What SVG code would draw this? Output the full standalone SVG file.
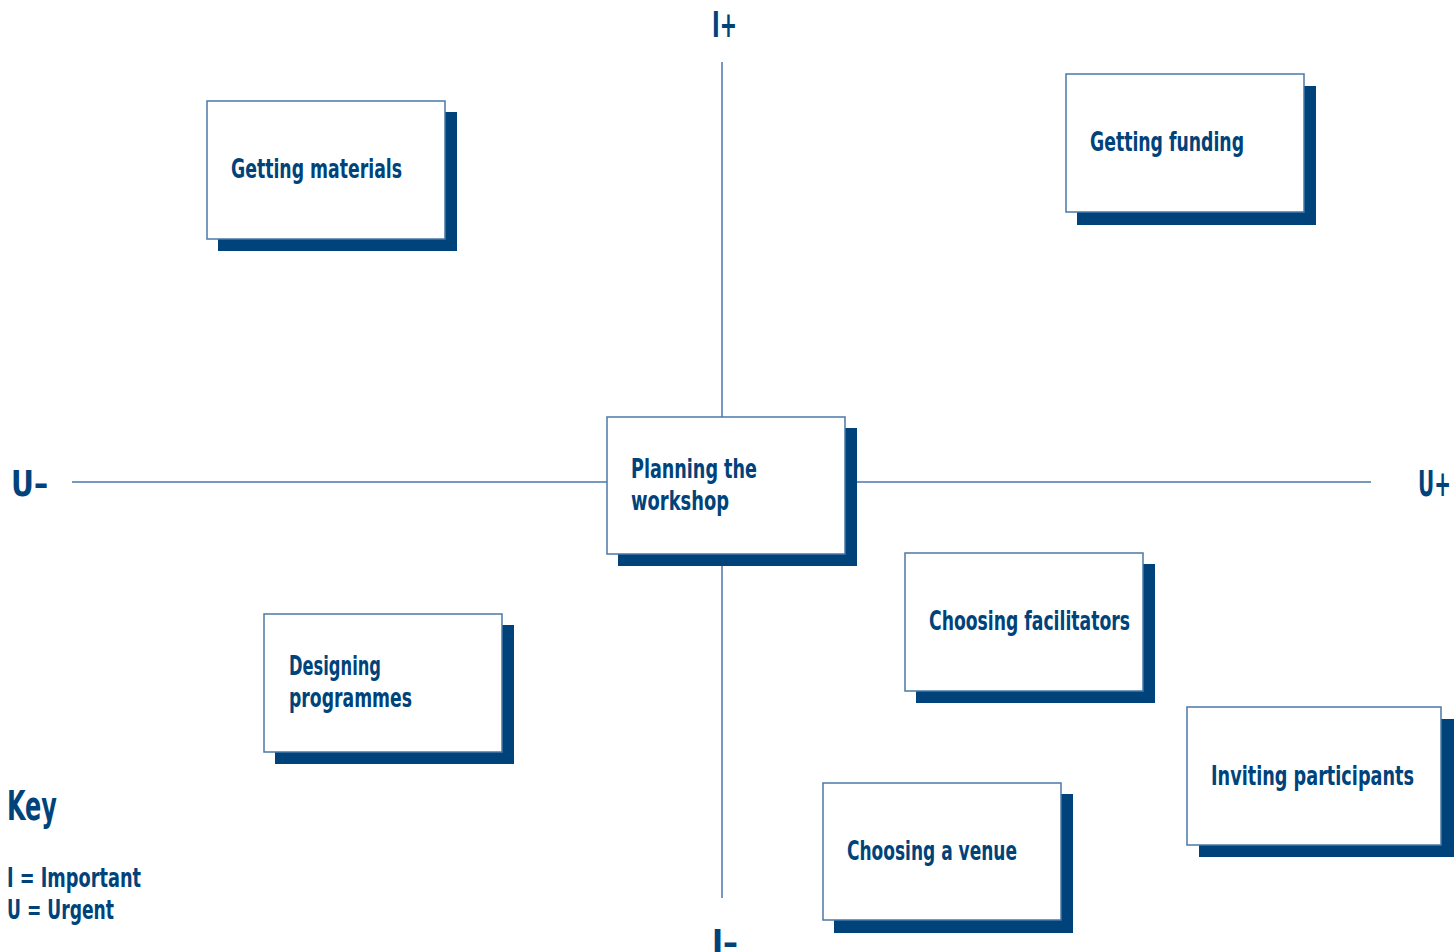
<svg xmlns="http://www.w3.org/2000/svg" width="1456" height="952" viewBox="0 0 1456 952">
<style>
.sh{fill:#00437a}
.bx{fill:#fff;stroke:#4a78a6;stroke-width:1.5}
.ax{stroke:#4a78a6;stroke-width:1.5;fill:none}
text{font-family:"DejaVu Sans Condensed","Liberation Sans Narrow","Liberation Sans",sans-serif;font-weight:bold;fill:#00437a}
.t{font-size:26px}
.k{font-size:40px}
.l{font-size:26px}
.a{font-size:36px}
</style>
<rect width="1456" height="952" fill="#fff"/>
<g id="connectors">
<line class="ax" x1="722" y1="62" x2="722" y2="898"/>
<line class="ax" x1="72" y1="482" x2="1371" y2="482"/>
</g>
<g id="axis-labels">
<text class="a" x="712" y="37" textLength="25" lengthAdjust="spacingAndGlyphs">I+</text>
<text class="a" x="712" y="955" textLength="26" lengthAdjust="spacingAndGlyphs">I–</text>
<text class="a" x="11" y="496" textLength="37" lengthAdjust="spacingAndGlyphs">U–</text>
<text class="a" x="1418" y="496" textLength="33" lengthAdjust="spacingAndGlyphs">U+</text>
</g>
<g id="n-materials">
<rect class="sh" x="218" y="112" width="239" height="139"/>
<rect class="bx" x="207" y="101" width="238" height="138"/>
<text class="t" x="231" y="178" textLength="171" lengthAdjust="spacingAndGlyphs">Getting materials</text>
</g>
<g id="n-funding">
<rect class="sh" x="1077" y="86" width="239" height="139"/>
<rect class="bx" x="1066" y="74" width="238" height="138"/>
<text class="t" x="1090" y="151" textLength="154" lengthAdjust="spacingAndGlyphs">Getting funding</text>
</g>
<g id="n-planning">
<rect class="sh" x="618" y="428" width="239" height="138"/>
<rect class="bx" x="607" y="417" width="238" height="137"/>
<text class="t" x="631" y="478" textLength="126" lengthAdjust="spacingAndGlyphs">Planning the</text>
<text class="t" x="631" y="510" textLength="98" lengthAdjust="spacingAndGlyphs">workshop</text>
</g>
<g id="n-facilitators">
<rect class="sh" x="916" y="564" width="239" height="139"/>
<rect class="bx" x="905" y="553" width="238" height="138"/>
<text class="t" x="929" y="630" textLength="201" lengthAdjust="spacingAndGlyphs">Choosing facilitators</text>
</g>
<g id="n-designing">
<rect class="sh" x="275" y="625" width="239" height="139"/>
<rect class="bx" x="264" y="614" width="238" height="138"/>
<text class="t" x="289" y="675" textLength="92" lengthAdjust="spacingAndGlyphs">Designing</text>
<text class="t" x="289" y="707" textLength="123" lengthAdjust="spacingAndGlyphs">programmes</text>
</g>
<g id="n-inviting">
<rect class="sh" x="1199" y="719" width="255" height="138"/>
<rect class="bx" x="1187" y="707" width="254" height="138"/>
<text class="t" x="1211" y="785" textLength="203" lengthAdjust="spacingAndGlyphs">Inviting participants</text>
</g>
<g id="n-venue">
<rect class="sh" x="834" y="794" width="239" height="139"/>
<rect class="bx" x="823" y="783" width="238" height="137"/>
<text class="t" x="847" y="860" textLength="170" lengthAdjust="spacingAndGlyphs">Choosing a venue</text>
</g>
<g id="key">
<text class="k" x="7" y="820" textLength="50" lengthAdjust="spacingAndGlyphs">Key</text>
<text class="l" x="7" y="887" textLength="134" lengthAdjust="spacingAndGlyphs">I = Important</text>
<text class="l" x="7" y="919" textLength="107" lengthAdjust="spacingAndGlyphs">U = Urgent</text>
</g>
</svg>
